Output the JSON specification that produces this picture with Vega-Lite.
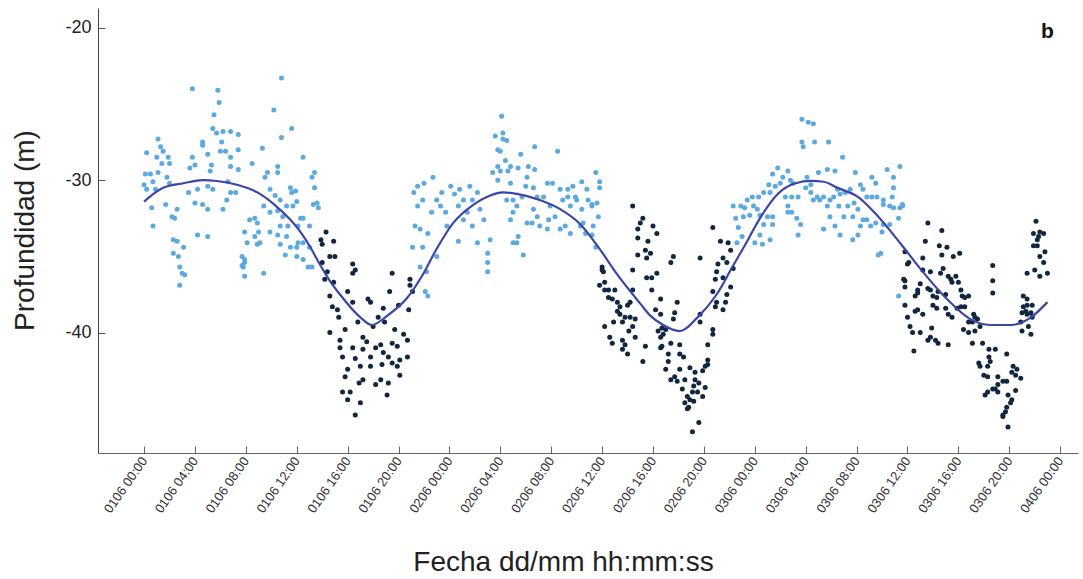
{
"$schema":"https://vega.github.io/schema/vega-lite/v6.json",
"width":980,"height":445,
"autosize":{"type":"none"},
"padding":{"left":98,"top":8,"right":5,"bottom":126},
"background":"white",
"config":{"view":{"stroke":null},"font":"Liberation Sans","axis":{"grid":false}},
"datasets":{
"dia":[
{"h":0.2,"d":-28.2},{"h":0.1,"d":-29.6},{"h":0.5,"d":-29.6},{"h":0.0,"d":-30.3},{"h":0.2,"d":-30.6},{"h":0.7,"d":-30.1},{"h":0.9,"d":-30.6},{"h":0.6,"d":-31.8},{"h":0.7,"d":-33.0},{"h":1.1,"d":-27.3},{"h":1.3,"d":-27.8},{"h":1.5,"d":-28.1},{"h":1.4,"d":-28.9},{"h":1.0,"d":-28.5},{"h":1.9,"d":-28.5},{"h":2.0,"d":-28.9},{"h":1.1,"d":-29.5},{"h":1.8,"d":-29.8},{"h":2.0,"d":-30.2},{"h":1.7,"d":-31.6},{"h":2.6,"d":-31.9},{"h":2.2,"d":-32.4},{"h":2.4,"d":-32.5},{"h":2.3,"d":-33.9},{"h":2.6,"d":-34.0},{"h":2.3,"d":-34.8},{"h":2.7,"d":-35.0},{"h":3.1,"d":-34.4},{"h":2.8,"d":-35.7},{"h":3.0,"d":-36.1},{"h":3.2,"d":-36.2},{"h":2.8,"d":-36.9},{"h":3.8,"d":-28.5},{"h":3.6,"d":-29.2},{"h":4.0,"d":-29.0},{"h":3.5,"d":-30.8},{"h":4.2,"d":-30.6},{"h":4.6,"d":-31.6},{"h":4.0,"d":-31.5},{"h":4.2,"d":-33.6},{"h":5.0,"d":-33.7},{"h":5.0,"d":-31.9},{"h":4.6,"d":-27.7},{"h":4.6,"d":-27.5},{"h":5.0,"d":-28.3},{"h":5.4,"d":-26.6},{"h":5.7,"d":-26.9},{"h":6.1,"d":-27.5},{"h":6.2,"d":-26.8},{"h":6.8,"d":-26.8},{"h":6.0,"d":-28.1},{"h":5.3,"d":-29.0},{"h":5.2,"d":-29.4},{"h":6.4,"d":-28.1},{"h":6.8,"d":-28.5},{"h":6.8,"d":-29.1},{"h":7.4,"d":-27.0},{"h":7.4,"d":-28.0},{"h":7.4,"d":-29.3},{"h":6.6,"d":-30.1},{"h":6.8,"d":-30.8},{"h":7.2,"d":-30.8},{"h":6.5,"d":-31.3},{"h":6.2,"d":-31.9},{"h":5.4,"d":-30.6},{"h":5.0,"d":-30.4},{"h":7.9,"d":-33.4},{"h":8.1,"d":-34.1},{"h":7.7,"d":-35.0},{"h":7.9,"d":-35.4},{"h":7.8,"d":-35.7},{"h":9.4,"d":-36.1},{"h":8.3,"d":-32.6},{"h":8.7,"d":-32.5},{"h":8.9,"d":-32.8},{"h":9.0,"d":-33.4},{"h":8.7,"d":-33.7},{"h":8.9,"d":-34.2},{"h":9.1,"d":-34.1},{"h":8.5,"d":-28.9},{"h":9.3,"d":-27.9},{"h":9.7,"d":-29.5},{"h":9.5,"d":-29.8},{"h":9.9,"d":-30.6},{"h":10.5,"d":-29.1},{"h":10.5,"d":-29.5},{"h":10.8,"d":-27.2},{"h":11.6,"d":-26.6},{"h":10.3,"d":-31.0},{"h":10.7,"d":-31.3},{"h":11.5,"d":-30.5},{"h":11.6,"d":-30.8},{"h":11.9,"d":-30.7},{"h":9.4,"d":-31.7},{"h":9.9,"d":-32.1},{"h":10.5,"d":-32.0},{"h":10.9,"d":-32.4},{"h":11.2,"d":-31.7},{"h":12.0,"d":-31.4},{"h":11.7,"d":-31.7},{"h":12.5,"d":-28.5},{"h":12.3,"d":-32.5},{"h":12.5,"d":-32.5},{"h":13.0,"d":-33.0},{"h":12.1,"d":-33.0},{"h":11.3,"d":-33.0},{"h":10.7,"d":-33.0},{"h":9.9,"d":-33.4},{"h":10.5,"d":-33.6},{"h":11.2,"d":-33.7},{"h":12.1,"d":-34.1},{"h":12.5,"d":-34.1},{"h":11.5,"d":-34.4},{"h":12.0,"d":-34.4},{"h":10.7,"d":-34.2},{"h":11.1,"d":-34.9},{"h":12.0,"d":-35.0},{"h":12.5,"d":-35.2},{"h":13.4,"d":-29.5},{"h":13.2,"d":-29.8},{"h":13.3,"d":-31.6},{"h":13.7,"d":-31.8},{"h":13.0,"d":-34.4},{"h":12.9,"d":-35.7},{"h":13.2,"d":-35.7},{"h":13.6,"d":-31.5},{"h":7.9,"d":-35.2},{"h":7.7,"d":-35.6},{"h":7.9,"d":-36.3},{"h":3.8,"d":-24.0},{"h":5.8,"d":-24.1},{"h":5.9,"d":-24.9},{"h":5.5,"d":-25.7},{"h":10.8,"d":-23.3},{"h":10.2,"d":-25.4},{"h":13.4,"d":-30.5},
{"h":22.1,"d":-37.3},{"h":22.2,"d":-36.0},{"h":21.7,"d":-35.7},{"h":23.0,"d":-35.0},{"h":21.1,"d":-34.4},{"h":21.9,"d":-34.4},{"h":21.3,"d":-33.0},{"h":21.7,"d":-33.2},{"h":22.3,"d":-33.5},{"h":21.5,"d":-30.4},{"h":22.7,"d":-29.8},{"h":21.5,"d":-31.7},{"h":21.9,"d":-31.3},{"h":22.6,"d":-32.1},{"h":23.0,"d":-31.3},{"h":23.4,"d":-30.8},{"h":23.3,"d":-31.7},{"h":23.7,"d":-32.1},{"h":24.1,"d":-30.4},{"h":23.8,"d":-33.0},{"h":24.4,"d":-30.9},{"h":24.8,"d":-30.6},{"h":24.7,"d":-31.7},{"h":25.1,"d":-31.3},{"h":25.4,"d":-32.1},{"h":25.6,"d":-30.4},{"h":25.8,"d":-31.3},{"h":25.1,"d":-32.6},{"h":25.8,"d":-33.0},{"h":24.7,"d":-34.0},{"h":26.2,"d":-34.1},{"h":26.4,"d":-31.9},{"h":26.2,"d":-30.8},{"h":26.7,"d":-32.6},{"h":27.2,"d":-33.9},{"h":27.0,"d":-34.8},{"h":27.0,"d":-35.4},{"h":27.0,"d":-36.0},{"h":27.8,"d":-30.0},{"h":27.4,"d":-29.5},{"h":28.0,"d":-29.4},{"h":27.8,"d":-28.0},{"h":28.0,"d":-28.1},{"h":28.2,"d":-27.3},{"h":28.5,"d":-27.4},{"h":27.6,"d":-27.1},{"h":28.2,"d":-26.9},{"h":28.1,"d":-25.8},{"h":28.4,"d":-28.7},{"h":27.8,"d":-29.1},{"h":28.8,"d":-29.1},{"h":28.6,"d":-29.4},{"h":28.8,"d":-30.2},{"h":28.5,"d":-31.3},{"h":29.0,"d":-31.3},{"h":29.3,"d":-31.7},{"h":29.0,"d":-32.1},{"h":28.8,"d":-32.6},{"h":29.4,"d":-33.7},{"h":29.0,"d":-34.1},{"h":29.3,"d":-34.1},{"h":29.8,"d":-34.9},{"h":29.6,"d":-28.3},{"h":29.4,"d":-29.2},{"h":30.2,"d":-29.1},{"h":30.7,"d":-27.8},{"h":30.7,"d":-29.3},{"h":30.1,"d":-29.8},{"h":30.0,"d":-30.4},{"h":30.6,"d":-30.5},{"h":30.9,"d":-31.1},{"h":29.7,"d":-31.1},{"h":30.6,"d":-31.9},{"h":30.9,"d":-32.4},{"h":30.1,"d":-32.8},{"h":30.5,"d":-32.8},{"h":31.1,"d":-33.0},{"h":31.4,"d":-31.1},{"h":31.7,"d":-30.2},{"h":32.1,"d":-30.2},{"h":31.9,"d":-31.7},{"h":31.8,"d":-32.6},{"h":31.7,"d":-33.2},{"h":32.3,"d":-32.4},{"h":32.5,"d":-28.1},{"h":32.7,"d":-30.6},{"h":32.9,"d":-31.3},{"h":33.3,"d":-31.1},{"h":33.3,"d":-30.6},{"h":33.5,"d":-31.7},{"h":33.7,"d":-30.4},{"h":33.1,"d":-33.0},{"h":32.7,"d":-33.2},{"h":33.5,"d":-33.5},{"h":33.9,"d":-31.1},{"h":34.0,"d":-31.3},{"h":34.4,"d":-30.1},{"h":34.4,"d":-31.9},{"h":34.3,"d":-33.0},{"h":34.8,"d":-30.6},{"h":34.9,"d":-31.3},{"h":35.2,"d":-31.7},{"h":35.6,"d":-31.5},{"h":35.7,"d":-32.4},{"h":35.5,"d":-29.5},{"h":35.8,"d":-30.1},{"h":35.8,"d":-30.5},{"h":35.3,"d":-33.0},{"h":35.2,"d":-33.6},{"h":35.5,"d":-34.4},{"h":34.5,"d":-32.8},{"h":34.7,"d":-33.5},{"h":35.2,"d":-31.6},{"h":22.3,"d":-37.6},{"h":21.2,"d":-30.8},{"h":22.0,"d":-30.2},
{"h":51.7,"d":-26.0},{"h":52.2,"d":-26.2},{"h":52.6,"d":-26.3},{"h":51.7,"d":-27.5},{"h":51.8,"d":-27.8},{"h":52.7,"d":-27.5},{"h":53.8,"d":-27.5},{"h":54.9,"d":-28.5},{"h":49.8,"d":-29.2},{"h":49.4,"d":-29.6},{"h":50.2,"d":-29.8},{"h":50.6,"d":-29.4},{"h":50.8,"d":-30.0},{"h":51.0,"d":-30.2},{"h":50.0,"d":-30.2},{"h":49.6,"d":-30.4},{"h":49.1,"d":-30.3},{"h":49.2,"d":-30.8},{"h":48.7,"d":-30.8},{"h":48.3,"d":-31.1},{"h":47.8,"d":-31.1},{"h":47.4,"d":-31.3},{"h":46.9,"d":-31.7},{"h":46.3,"d":-31.7},{"h":47.2,"d":-31.8},{"h":47.9,"d":-31.7},{"h":48.2,"d":-31.9},{"h":47.6,"d":-32.3},{"h":47.1,"d":-32.4},{"h":46.5,"d":-32.5},{"h":48.4,"d":-32.3},{"h":49.0,"d":-32.4},{"h":49.4,"d":-32.4},{"h":48.7,"d":-32.9},{"h":49.4,"d":-32.9},{"h":50.6,"d":-32.1},{"h":50.9,"d":-32.1},{"h":51.3,"d":-32.5},{"h":51.6,"d":-32.9},{"h":51.4,"d":-33.6},{"h":50.6,"d":-31.7},{"h":50.4,"d":-31.1},{"h":50.9,"d":-31.1},{"h":51.4,"d":-31.1},{"h":52.0,"d":-30.5},{"h":52.4,"d":-30.3},{"h":52.1,"d":-29.8},{"h":53.0,"d":-29.5},{"h":53.7,"d":-29.3},{"h":54.3,"d":-29.4},{"h":52.4,"d":-30.8},{"h":52.9,"d":-31.1},{"h":53.1,"d":-31.3},{"h":52.6,"d":-31.3},{"h":53.4,"d":-31.1},{"h":53.9,"d":-31.3},{"h":53.7,"d":-31.7},{"h":54.5,"d":-30.6},{"h":54.7,"d":-30.9},{"h":54.2,"d":-31.1},{"h":55.1,"d":-30.8},{"h":55.5,"d":-30.6},{"h":55.9,"d":-29.5},{"h":56.3,"d":-30.3},{"h":56.5,"d":-30.6},{"h":57.2,"d":-29.8},{"h":57.5,"d":-30.2},{"h":56.8,"d":-31.1},{"h":57.2,"d":-31.1},{"h":57.6,"d":-31.1},{"h":58.1,"d":-31.3},{"h":58.4,"d":-29.3},{"h":58.9,"d":-29.8},{"h":59.4,"d":-29.1},{"h":58.9,"d":-30.5},{"h":58.8,"d":-31.1},{"h":59.4,"d":-31.8},{"h":59.6,"d":-31.7},{"h":58.9,"d":-31.8},{"h":59.3,"d":-32.5},{"h":54.6,"d":-31.7},{"h":55.3,"d":-31.7},{"h":55.8,"d":-31.5},{"h":56.1,"d":-31.9},{"h":53.9,"d":-32.4},{"h":55.0,"d":-32.4},{"h":55.7,"d":-32.4},{"h":54.3,"d":-33.0},{"h":54.7,"d":-33.6},{"h":56.3,"d":-33.0},{"h":56.5,"d":-32.6},{"h":56.8,"d":-32.6},{"h":57.1,"d":-33.0},{"h":57.5,"d":-32.8},{"h":58.1,"d":-32.9},{"h":58.6,"d":-32.9},{"h":58.0,"d":-33.4},{"h":56.1,"d":-33.6},{"h":55.7,"d":-33.9},{"h":53.4,"d":-33.2},{"h":57.7,"d":-34.9},{"h":59.3,"d":-37.6},{"h":46.7,"d":-33.1},{"h":47.0,"d":-33.7},{"h":46.6,"d":-34.1},{"h":48.0,"d":-34.1},{"h":48.6,"d":-34.2},{"h":49.2,"d":-33.9},{"h":48.4,"d":-33.6},{"h":58.1,"d":-31.6},{"h":58.6,"d":-31.7},{"h":59.6,"d":-31.6},{"h":57.9,"d":-34.8}
],
"noche":[
{"h":14.3,"d":-33.4},{"h":14.9,"d":-34.0},{"h":14.0,"d":-34.2},{"h":14.6,"d":-35.0},{"h":15.0,"d":-35.0},{"h":14.0,"d":-35.4},{"h":14.2,"d":-36.5},{"h":14.9,"d":-36.7},{"h":16.4,"d":-35.5},{"h":16.6,"d":-35.9},{"h":16.4,"d":-36.1},{"h":16.0,"d":-37.3},{"h":14.6,"d":-37.6},{"h":16.4,"d":-38.0},{"h":14.8,"d":-38.3},{"h":15.2,"d":-38.5},{"h":15.3,"d":-39.0},{"h":17.6,"d":-37.8},{"h":17.8,"d":-38.0},{"h":19.5,"d":-36.1},{"h":19.3,"d":-37.3},{"h":20.9,"d":-36.5},{"h":20.0,"d":-38.2},{"h":20.8,"d":-38.5},{"h":18.8,"d":-38.4},{"h":18.4,"d":-39.0},{"h":18.9,"d":-39.3},{"h":18.0,"d":-39.6},{"h":16.8,"d":-39.3},{"h":14.6,"d":-40.0},{"h":15.4,"d":-40.5},{"h":17.2,"d":-40.3},{"h":17.5,"d":-40.6},{"h":15.4,"d":-41.0},{"h":16.4,"d":-41.0},{"h":15.6,"d":-41.6},{"h":17.2,"d":-41.1},{"h":17.8,"d":-41.6},{"h":18.2,"d":-41.0},{"h":18.6,"d":-40.8},{"h":18.8,"d":-41.3},{"h":19.2,"d":-41.6},{"h":19.5,"d":-40.7},{"h":19.9,"d":-40.9},{"h":20.4,"d":-40.1},{"h":20.7,"d":-40.5},{"h":20.1,"d":-41.8},{"h":20.7,"d":-41.6},{"h":17.0,"d":-42.2},{"h":18.7,"d":-42.1},{"h":19.5,"d":-42.0},{"h":16.0,"d":-42.4},{"h":17.8,"d":-42.2},{"h":19.9,"d":-42.2},{"h":15.8,"d":-42.9},{"h":17.2,"d":-43.1},{"h":18.6,"d":-43.1},{"h":19.2,"d":-43.3},{"h":20.1,"d":-42.8},{"h":15.6,"d":-43.9},{"h":16.2,"d":-43.9},{"h":16.0,"d":-44.4},{"h":19.1,"d":-44.1},{"h":17.0,"d":-44.6},{"h":16.6,"d":-45.4},{"h":19.7,"d":-39.8},{"h":21.1,"d":-37.3},{"h":20.9,"d":-36.9},{"h":15.8,"d":-39.8},{"h":16.6,"d":-41.7},{"h":18.2,"d":-43.4},{"h":16.9,"d":-43.3},{"h":13.9,"d":-33.9},{"h":14.4,"d":-36.0},
{"h":38.4,"d":-31.7},{"h":39.2,"d":-32.5},{"h":39.0,"d":-32.8},{"h":38.8,"d":-33.2},{"h":40.0,"d":-33.0},{"h":40.3,"d":-33.5},{"h":38.8,"d":-33.8},{"h":39.6,"d":-34.0},{"h":39.4,"d":-34.6},{"h":39.8,"d":-34.8},{"h":38.8,"d":-34.9},{"h":39.5,"d":-35.1},{"h":41.6,"d":-35.0},{"h":41.4,"d":-35.4},{"h":43.7,"d":-35.1},{"h":44.7,"d":-33.1},{"h":45.3,"d":-34.0},{"h":45.9,"d":-34.1},{"h":45.5,"d":-35.1},{"h":45.1,"d":-35.5},{"h":45.8,"d":-35.4},{"h":45.0,"d":-36.0},{"h":38.4,"d":-35.9},{"h":40.3,"d":-36.1},{"h":36.0,"d":-35.7},{"h":36.1,"d":-36.0},{"h":35.8,"d":-36.9},{"h":36.2,"d":-37.2},{"h":39.5,"d":-36.4},{"h":39.9,"d":-36.4},{"h":45.5,"d":-36.4},{"h":44.9,"d":-36.5},{"h":46.1,"d":-37.0},{"h":37.0,"d":-37.2},{"h":38.4,"d":-37.2},{"h":39.9,"d":-37.2},{"h":44.7,"d":-37.3},{"h":45.8,"d":-37.5},{"h":36.5,"d":-37.7},{"h":36.8,"d":-37.8},{"h":37.2,"d":-38.0},{"h":37.4,"d":-38.3},{"h":38.0,"d":-38.2},{"h":38.2,"d":-38.0},{"h":40.6,"d":-37.8},{"h":41.9,"d":-38.0},{"h":45.0,"d":-38.0},{"h":45.7,"d":-38.0},{"h":44.9,"d":-38.3},{"h":37.2,"d":-38.6},{"h":37.4,"d":-38.8},{"h":37.8,"d":-39.0},{"h":38.2,"d":-39.0},{"h":38.6,"d":-39.1},{"h":40.2,"d":-38.5},{"h":40.6,"d":-38.8},{"h":41.7,"d":-38.7},{"h":41.6,"d":-39.1},{"h":45.5,"d":-38.5},{"h":43.7,"d":-38.8},{"h":43.7,"d":-39.3},{"h":36.9,"d":-39.3},{"h":37.6,"d":-39.3},{"h":36.2,"d":-39.6},{"h":38.4,"d":-39.6},{"h":40.7,"d":-39.7},{"h":41.0,"d":-39.8},{"h":38.1,"d":-39.9},{"h":40.4,"d":-39.9},{"h":44.7,"d":-39.8},{"h":40.8,"d":-40.1},{"h":40.6,"d":-40.3},{"h":38.6,"d":-40.3},{"h":36.6,"d":-40.3},{"h":44.7,"d":-40.1},{"h":36.8,"d":-40.7},{"h":37.6,"d":-40.5},{"h":41.4,"d":-40.7},{"h":40.7,"d":-40.9},{"h":42.1,"d":-40.8},{"h":44.3,"d":-40.8},{"h":37.8,"d":-40.8},{"h":39.4,"d":-40.9},{"h":37.6,"d":-41.1},{"h":38.0,"d":-41.4},{"h":40.6,"d":-41.0},{"h":42.1,"d":-41.4},{"h":42.4,"d":-41.6},{"h":41.2,"d":-41.4},{"h":39.2,"d":-41.9},{"h":41.2,"d":-41.9},{"h":44.3,"d":-41.8},{"h":44.3,"d":-42.1},{"h":44.1,"d":-42.2},{"h":41.0,"d":-42.4},{"h":42.1,"d":-42.4},{"h":42.9,"d":-42.3},{"h":43.3,"d":-42.6},{"h":43.9,"d":-42.5},{"h":43.3,"d":-43.1},{"h":41.4,"d":-43.1},{"h":41.7,"d":-42.9},{"h":41.9,"d":-43.2},{"h":42.5,"d":-43.1},{"h":43.6,"d":-43.3},{"h":43.2,"d":-43.5},{"h":44.1,"d":-43.6},{"h":42.3,"d":-43.7},{"h":43.1,"d":-43.9},{"h":42.7,"d":-44.2},{"h":42.9,"d":-44.4},{"h":42.5,"d":-44.6},{"h":42.8,"d":-44.9},{"h":42.7,"d":-45.0},{"h":43.2,"d":-44.5},{"h":43.9,"d":-44.2},{"h":43.5,"d":-43.9},{"h":43.6,"d":-45.9},{"h":43.1,"d":-46.5},{"h":36.0,"d":-35.9},{"h":36.2,"d":-36.7},{"h":36.5,"d":-37.2},{"h":46.1,"d":-34.6},{"h":46.3,"d":-35.8},
{"h":61.6,"d":-32.8},{"h":62.7,"d":-33.3},{"h":61.4,"d":-34.0},{"h":59.8,"d":-34.7},{"h":62.5,"d":-34.3},{"h":63.1,"d":-34.4},{"h":62.7,"d":-34.9},{"h":63.6,"d":-35.0},{"h":64.1,"d":-34.8},{"h":60.1,"d":-35.4},{"h":60.0,"d":-35.5},{"h":61.2,"d":-35.1},{"h":61.2,"d":-35.9},{"h":61.8,"d":-36.0},{"h":62.8,"d":-35.8},{"h":62.6,"d":-36.1},{"h":63.2,"d":-36.3},{"h":63.4,"d":-36.5},{"h":63.8,"d":-36.3},{"h":63.5,"d":-36.7},{"h":64.0,"d":-36.7},{"h":59.7,"d":-36.5},{"h":59.8,"d":-37.0},{"h":60.8,"d":-37.2},{"h":60.6,"d":-37.6},{"h":61.0,"d":-36.8},{"h":61.6,"d":-37.1},{"h":61.8,"d":-37.2},{"h":62.0,"d":-37.6},{"h":62.3,"d":-37.7},{"h":62.4,"d":-37.3},{"h":63.0,"d":-37.5},{"h":64.2,"d":-37.2},{"h":64.3,"d":-37.6},{"h":64.5,"d":-37.7},{"h":64.8,"d":-37.6},{"h":64.2,"d":-38.3},{"h":63.9,"d":-38.4},{"h":64.5,"d":-38.3},{"h":59.8,"d":-38.2},{"h":60.6,"d":-38.6},{"h":60.8,"d":-38.5},{"h":61.2,"d":-38.8},{"h":60.0,"d":-39.0},{"h":62.0,"d":-38.2},{"h":62.3,"d":-38.4},{"h":63.0,"d":-38.4},{"h":63.2,"d":-38.8},{"h":63.5,"d":-39.0},{"h":65.2,"d":-38.8},{"h":65.3,"d":-39.0},{"h":65.5,"d":-39.1},{"h":64.8,"d":-39.3},{"h":65.1,"d":-39.3},{"h":60.2,"d":-39.6},{"h":60.4,"d":-40.0},{"h":61.0,"d":-40.0},{"h":61.9,"d":-39.7},{"h":61.8,"d":-40.3},{"h":61.6,"d":-40.5},{"h":62.2,"d":-40.5},{"h":62.4,"d":-40.7},{"h":63.2,"d":-40.8},{"h":60.5,"d":-41.2},{"h":64.4,"d":-39.8},{"h":64.8,"d":-40.0},{"h":65.3,"d":-39.9},{"h":65.7,"d":-39.6},{"h":65.1,"d":-40.7},{"h":65.9,"d":-40.7},{"h":66.7,"d":-35.6},{"h":66.7,"d":-36.6},{"h":66.7,"d":-37.4},{"h":66.4,"d":-41.1},{"h":66.9,"d":-41.1},{"h":67.8,"d":-41.4},{"h":66.4,"d":-41.6},{"h":66.5,"d":-41.9},{"h":65.6,"d":-42.0},{"h":65.7,"d":-42.2},{"h":66.3,"d":-42.2},{"h":66.0,"d":-42.8},{"h":66.3,"d":-42.9},{"h":67.1,"d":-42.9},{"h":67.5,"d":-43.2},{"h":67.1,"d":-43.4},{"h":67.8,"d":-43.2},{"h":68.3,"d":-42.2},{"h":68.6,"d":-42.4},{"h":68.5,"d":-42.8},{"h":68.9,"d":-43.0},{"h":68.2,"d":-42.6},{"h":66.7,"d":-43.7},{"h":66.3,"d":-43.9},{"h":66.1,"d":-44.1},{"h":66.9,"d":-43.7},{"h":67.1,"d":-43.9},{"h":67.9,"d":-44.1},{"h":68.5,"d":-43.8},{"h":68.2,"d":-44.4},{"h":68.1,"d":-44.6},{"h":67.8,"d":-44.9},{"h":67.7,"d":-45.2},{"h":67.5,"d":-45.4},{"h":67.5,"d":-45.5},{"h":67.9,"d":-46.2},{"h":69.1,"d":-37.6},{"h":69.4,"d":-37.8},{"h":69.1,"d":-38.3},{"h":69.4,"d":-38.2},{"h":69.8,"d":-38.2},{"h":69.3,"d":-38.6},{"h":69.0,"d":-38.7},{"h":69.7,"d":-38.7},{"h":69.4,"d":-38.8},{"h":69.8,"d":-39.0},{"h":68.9,"d":-39.3},{"h":69.5,"d":-39.6},{"h":69.0,"d":-39.9},{"h":69.7,"d":-40.1},{"h":69.4,"d":-36.1},{"h":70.0,"d":-35.9},{"h":70.4,"d":-36.3},{"h":71.0,"d":-36.1},{"h":70.7,"d":-35.4},{"h":70.4,"d":-35.0},{"h":70.8,"d":-34.7},{"h":70.2,"d":-34.3},{"h":69.9,"d":-34.3},{"h":70.2,"d":-33.9},{"h":70.3,"d":-33.7},{"h":70.7,"d":-33.5},{"h":69.9,"d":-33.5},{"h":70.4,"d":-33.4},{"h":70.1,"d":-32.7},{"h":59.8,"d":-36.6},{"h":60.8,"d":-37.4}
],
"ajuste":[
{"h":0.0,"d":-31.4},{"h":1.5,"d":-30.5},{"h":3.1,"d":-30.2},{"h":4.6,"d":-30.0},{"h":5.7,"d":-30.05},{"h":7.3,"d":-30.3},{"h":8.9,"d":-30.8},{"h":10.1,"d":-31.5},{"h":11.5,"d":-32.6},{"h":12.3,"d":-33.4},{"h":13.0,"d":-34.3},{"h":13.8,"d":-35.5},{"h":14.6,"d":-36.6},{"h":15.4,"d":-37.5},{"h":17.0,"d":-39.0},{"h":17.9,"d":-39.5},{"h":19.1,"d":-38.9},{"h":20.7,"d":-37.7},{"h":21.9,"d":-36.2},{"h":23.0,"d":-34.5},{"h":24.3,"d":-32.8},{"h":25.9,"d":-31.6},{"h":27.2,"d":-31.0},{"h":28.2,"d":-30.8},{"h":29.3,"d":-30.9},{"h":31.1,"d":-31.3},{"h":32.7,"d":-31.9},{"h":34.3,"d":-32.9},{"h":35.8,"d":-34.5},{"h":37.2,"d":-36.2},{"h":39.0,"d":-38.1},{"h":39.8,"d":-38.9},{"h":40.8,"d":-39.5},{"h":42.1,"d":-39.9},{"h":43.5,"d":-39.0},{"h":45.0,"d":-37.5},{"h":46.3,"d":-35.6},{"h":47.2,"d":-34.3},{"h":48.4,"d":-32.5},{"h":49.8,"d":-30.9},{"h":51.2,"d":-30.2},{"h":52.4,"d":-30.05},{"h":53.4,"d":-30.1},{"h":54.5,"d":-30.5},{"h":56.1,"d":-31.1},{"h":57.6,"d":-32.3},{"h":59.4,"d":-34.1},{"h":61.0,"d":-35.8},{"h":63.1,"d":-37.8},{"h":64.9,"d":-39.1},{"h":66.5,"d":-39.5},{"h":68.1,"d":-39.5},{"h":69.7,"d":-39.0},{"h":71.0,"d":-38.0}
],
"panel":[{"h":71.0,"d":-20.3,"etiqueta":"b"}]
},
"encoding":{
"x":{"field":"h","type":"quantitative","scale":{"domain":[-3.62,73.4],"nice":false,"zero":false},
"axis":{"values":[0,4,8,12,16,20,24,28,32,36,40,44,48,52,56,60,64,68,72],
"labelExpr":"'0' + (floor(datum.value/24)+1) + '06 ' + (datum.value % 24 < 10 ? '0' : '') + (datum.value % 24) + ':00'",
"labelAngle":-55,"labelFontSize":13,"labelColor":"#333333","labelPadding":12,
"tickSize":-7,"tickColor":"#666666","domainColor":"#666666","labelOverlap":false,
"title":"Fecha dd/mm hh:mm:ss","titleFontSize":28,"titleFontWeight":"normal","titleColor":"#222222",
"titleX":465,"titleY":117,"titleBaseline":"alphabetic","titleAnchor":"middle"}},
"y":{"field":"d","type":"quantitative","scale":{"domain":[-47.9,-18.7],"nice":false,"zero":false},
"axis":{"values":[-20,-30,-40],"labelExpr":"'' + datum.value","labelFontSize":18,"labelColor":"#222222","labelPadding":14,
"tickSize":-7,"tickColor":"#555555","domainColor":"#444444",
"title":"Profundidad (m)","titleFontSize":28,"titleFontWeight":"normal","titleColor":"#222222",
"titleX":-73,"titleY":222,"titleBaseline":"middle","titleAngle":-90}}
},
"layer":[
{"data":{"name":"dia"},"mark":{"type":"circle","size":25,"color":"#5ba9df","opacity":1}},
{"data":{"name":"noche"},"mark":{"type":"circle","size":25,"color":"#10273f","opacity":1}},
{"data":{"name":"ajuste"},"mark":{"type":"line","color":"#3c46a6","strokeWidth":2.2,"interpolate":"monotone"}},
{"data":{"name":"panel"},"mark":{"type":"text","fontWeight":"bold","fontSize":21,"color":"#111111","align":"center","baseline":"middle"},"encoding":{"text":{"field":"etiqueta"}}}
]
}
